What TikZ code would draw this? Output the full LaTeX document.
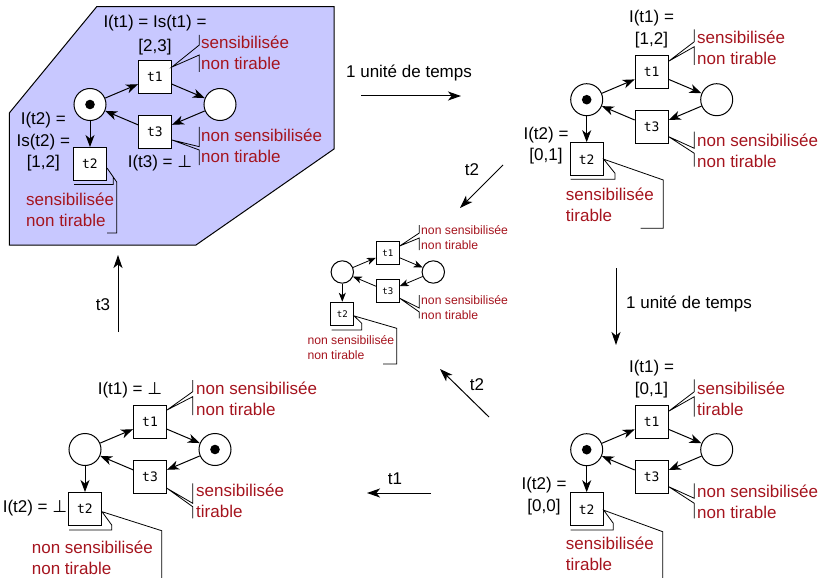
\documentclass[tikz,border=0pt]{standalone}
\usepackage{fontspec}
\setmainfont{Liberation Sans}
\newfontfamily\netmono{DejaVu Sans Mono}
\newfontfamily\netsym{DejaVu Sans}
\usetikzlibrary{arrows.meta}
\definecolor{notered}{RGB}{165,20,30}
\definecolor{panel}{RGB}{200,200,255}
\newcommand\botsym{{\netsym ⊥}}

% one Petri net: places p1, p2, transitions t1, t2, t3; #1 adds the marking
\newcommand\netbody[1]{%
  \node[place] (p1) at (0,0) {};
  \node[trans] (t1) at (65,-27.5) {t1};
  \node[place] (p2) at (130,0) {};
  \node[trans] (t3) at (65,27.5) {t3};
  \node[trans] (t2) at (0,59.5) {t2};
  #1
  \draw[arc] (p1) -- (t1);
  \draw[arc] (t1) -- (p2);
  \draw[arc] (p2) -- (t3);
  \draw[arc] (t3) -- (p1);
  \draw[arc] (p1) -- (t2);
}
% leader from a transition to a vertical bar beside its note
\newcommand\barnote[6]{%
  \draw[note] (#2,#3) -- (#2,#4) -- (#1) -- (#2,#5) -- (#2,#6);}

\begin{document}
\begin{tikzpicture}[x=1pt,y=-1pt,
  place/.style={circle, draw, fill=white, minimum size=32pt, inner sep=0pt, line width=1pt},
  token/.style={fill=black},
  trans/.style={rectangle, draw, fill=white, minimum size=33pt, inner sep=0pt, line width=1pt,
    font=\netmono\fontsize{13}{15}\selectfont},
  arc/.style={line width=1pt, -{Stealth[length=12pt,width=9pt,inset=3.5pt]}},
  flow/.style={line width=1pt, -{Stealth[length=13pt,width=9pt,inset=3.5pt]}},
  note/.style={line width=0.8pt},
  lbl/.style={align=center, inner sep=0pt, font=\fontsize{17}{21.7}\selectfont},
  notetext/.style={align=left, inner sep=0pt, anchor=west, text=notered,
    font=\fontsize{17}{21}\selectfont},
  smallnote/.style={notetext, font=\fontsize{12.2}{15}\selectfont},
]
\useasboundingbox (0,0) rectangle (823,578);

% highlighted initial state
\draw[line width=1pt, fill=panel] (96.7,6.7) -- (334,6.7) -- (334,149) -- (196,245)
  -- (9.3,245) -- (9.3,113) -- cycle;

% the five states of the net
\begin{scope}[shift={(90,104.5)}, name prefix=A-]
  \netbody{\fill[token] (p1) circle (4.8pt);}
\end{scope}
\begin{scope}[shift={(586.7,99.7)}, name prefix=B-]
  \netbody{\fill[token] (p1) circle (4.8pt);}
\end{scope}
\begin{scope}[shift={(586.7,449.7)}, name prefix=C-]
  \netbody{\fill[token] (p1) circle (4.8pt);}
\end{scope}
\begin{scope}[shift={(85,449.5)}, name prefix=D-]
  \netbody{\fill[token] (p2) circle (4.8pt);}
\end{scope}
\begin{scope}[shift={(342.3,272)}, scale=0.7, transform shape, name prefix=M-,
    arc/.style={line width=0.8pt, -{Stealth[length=9pt,width=7pt,inset=2.5pt]}}]
  \netbody{}
\end{scope}

% state A
\node[lbl, font=\fontsize{17}{23.4}\selectfont] (A-l1) at (155,35) {I(t1) = Is(t1) =\\{[2,3]}};
\node[lbl] (A-l2) at (43.3,141.7) {I(t2) =\\Is(t2) =\\{[1,2]}};
\node[lbl] (A-l3) at (160,163.3) {I(t3) = \botsym};
\barnote{[yshift=10pt]A-t1.east}{199.3}{35}{45}{55}{72}
\node[notetext] (A-n1) at (201,53) {sensibilisée\\non tirable};
\barnote{[yshift=-8pt]A-t3.east}{199.3}{127}{146.7}{150}{165}
\node[notetext] (A-n3) at (201,145.7) {non sensibilisée\\non tirable};
\draw[note] (74,184.5) -- (113.3,184.5) -- (113.3,177) -- ([yshift=-4pt]A-t2.east)
  -- (116.7,182) -- (116.7,233) -- (107,233);
\node[notetext] (A-n2) at (26,210) {sensibilisée\\non tirable};

% state B
\node[lbl] (B-l1) at (651.5,29.2) {I(t1) =\\{[1,2]}};
\node[lbl] (B-l2) at (546,145.5) {I(t2) =\\{[0,1]}};
\barnote{[yshift=11pt]B-t1.east}{694.3}{29.3}{41.7}{46.7}{65}
\node[notetext] (B-n1) at (697,48.3) {sensibilisée\\non tirable};
\barnote{[yshift=-9.5pt]B-t3.east}{694.3}{131.7}{148.3}{153.3}{166.7}
\node[notetext] (B-n3) at (697,151.2) {non sensibilisée\\non tirable};
\draw[note] (570.7,179.3) -- (615,179.3) -- (615,173.3) -- (B-t2.east)
  -- (663.3,180) -- (663.3,228.3) -- (640.7,228.3);
\node[notetext] (B-n2) at (565.7,204.5) {sensibilisée\\tirable};

% state C
\node[lbl] (C-l1) at (651.5,379.2) {I(t1) =\\{[0,1]}};
\node[lbl] (C-l2) at (544,495.8) {I(t2) =\\{[0,0]}};
\barnote{[yshift=11pt]C-t1.east}{694.3}{379.3}{391.7}{396.7}{416.7}
\node[notetext] (C-n1) at (697,399.2) {sensibilisée\\tirable};
\barnote{[yshift=-9.5pt]C-t3.east}{694.3}{483.3}{498.3}{503.3}{518.3}
\node[notetext] (C-n3) at (697,502.2) {non sensibilisée\\non tirable};
\draw[note] (570.7,530) -- (613.3,530) -- (613.3,523.3) -- ([yshift=-1pt]C-t2.east)
  -- (662.7,531.7) -- (662.7,590);
\node[notetext] (C-n2) at (565.7,553.8) {sensibilisée\\tirable};

% state D
\node[lbl] (D-l1) at (130,390) {I(t1) = \botsym};
\node[lbl] (D-l2) at (35,508.3) {I(t2) = \botsym};
\barnote{[yshift=12pt]D-t1.east}{192.7}{380}{391.7}{396.7}{415}
\node[notetext] (D-n1) at (196,399.2) {non sensibilisée\\non tirable};
\barnote{[yshift=-11.3pt]D-t3.east}{192.7}{483.3}{503.3}{506.7}{518.3}
\node[notetext] (D-n3) at (196,500.9) {sensibilisée\\tirable};
\draw[note] (69,530) -- (111.7,530) -- (111.7,525) -- ([yshift=-2.7pt]D-t2.east)
  -- (161.7,530.7) -- (161.7,590);
\node[notetext] (D-n2) at (31.7,557.5) {non sensibilisée\\non tirable};

% dead state
\barnote{[yshift=6.75pt]M-t1.east}{419.3}{225}{233}{238}{250}
\node[smallnote] (M-n1) at (421,237.5) {non sensibilisée\\non tirable};
\barnote{[yshift=-7pt]M-t3.east}{419.3}{295}{308}{312}{318.3}
\node[smallnote] (M-n3) at (421,307.5) {non sensibilisée\\non tirable};
\draw[note] (331.7,330) -- (361.7,330) -- (361.7,323.3) -- ([yshift=-2.3pt]M-t2.east)
  -- (396.7,328.3) -- (396.7,364) -- (383,364);
\node[smallnote] (M-n2) at (307.3,347.2) {non sensibilisée\\non tirable};

% transitions between states
\coordinate (f1s) at (361,96);    \coordinate (f1e) at (461,96);
\coordinate (f2s) at (503,165);   \coordinate (f2e) at (460,208);
\coordinate (f3s) at (616,268);   \coordinate (f3e) at (616,345);
\coordinate (f4s) at (489,417);   \coordinate (f4e) at (440,369);
\coordinate (f5s) at (431,493);   \coordinate (f5e) at (367,493);
\coordinate (f6s) at (118,332);   \coordinate (f6e) at (118,255);
\draw[flow] (f1s) -- (f1e);
\draw[flow] (f2s) -- (f2e);
\draw[flow] (f3s) -- (f3e);
\draw[flow] (f4s) -- (f4e);
\draw[flow] (f5s) -- (f5e);
\draw[flow] (f6s) -- (f6e);
\node[lbl] (f1l) at (409,73) {1 unité de temps};
\node[lbl] (f2l) at (472,170) {t2};
\node[lbl] (f3l) at (689,304) {1 unité de temps};
\node[lbl] (f4l) at (477,385) {t2};
\node[lbl] (f5l) at (395,479) {t1};
\node[lbl] (f6l) at (103,305) {t3};
\end{tikzpicture}
\end{document}
